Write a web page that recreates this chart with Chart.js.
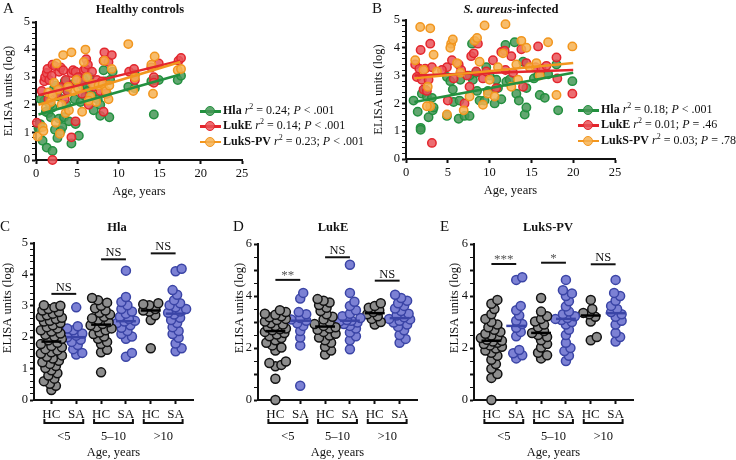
<!DOCTYPE html>
<html>
<head>
<meta charset="utf-8">
<script src="https://cdn.jsdelivr.net/npm/chart.js@4.4.1/dist/chart.umd.min.js"></script>
<style>
  body { margin: 0; background: #fff; }
  #wrap { position: relative; width: 736px; height: 460px; overflow: hidden; background: #fff;
          font-family: 'Liberation Serif', 'DejaVu Serif', serif; color: #111; }
  canvas { position: absolute; }
  .txt { position: absolute; white-space: nowrap; line-height: 16px; }
  .letter { font-size: 15px; }
  .ttl { font-size: 12.5px; font-weight: bold; transform: translateX(-50%); }
  .leg { position: absolute; font-size: 12px; white-space: nowrap; }
  .leg .row { position: absolute; left: 0; height: 14px; width: 170px; }
  .leg .ln { position: absolute; left: 0; top: 6px; width: 21px; height: 2.5px; }
  .leg .dot { position: absolute; left: 5px; top: 2px; width: 8px; height: 8px; border-radius: 50%; border: 1.5px solid; }
  .leg .tx { position: absolute; left: 23px; top: -1px; }
  .leg sup { font-size: 8px; line-height: 0; }
</style>
</head>
<body>
<div id="wrap">
  <canvas id="cA" width="368" height="205" style="left:0;top:0"></canvas>
  <canvas id="cB" width="368" height="205" style="left:368px;top:0"></canvas>
  <canvas id="cC" width="215" height="255" style="left:0;top:205px"></canvas>
  <canvas id="cD" width="245" height="255" style="left:215px;top:205px"></canvas>
  <canvas id="cE" width="306" height="255" style="left:430px;top:205px"></canvas>

  <div class="txt letter" style="left:3px;top:0">A</div>
  <div class="txt ttl" style="left:140px;top:1px">Healthy controls</div>
  <div class="txt letter" style="left:372px;top:0">B</div>
  <div class="txt ttl" style="left:511px;top:1px"><i>S. aureus</i>-infected</div>
  <div class="txt letter" style="left:0;top:218px">C</div>
  <div class="txt ttl" style="left:117px;top:219px">Hla</div>
  <div class="txt letter" style="left:233px;top:218px">D</div>
  <div class="txt ttl" style="left:333px;top:219px">LukE</div>
  <div class="txt letter" style="left:440px;top:218px">E</div>
  <div class="txt ttl" style="left:548px;top:219px">LukS-PV</div>

  <div class="leg" id="legA" style="left:200px;top:104px"></div>
  <div class="leg" id="legB" style="left:578px;top:103px"></div>
</div>

<script>
const FONT = "'Liberation Serif', 'DejaVu Serif', serif";
const INK = '#111';

// --- Panels A/B: [age in years, ELISA units (log)] --- //
const toxins = ['Hla', 'LukE', 'LukS-PV'];

const hcHla = [[0.3,1.15],[0.8,0.7],[1.3,0.45],[2.0,0.33],[0.5,1.3],[1.0,2.15],[0.6,2.2],[1.5,1.7],[1.2,1.75],[1.8,1.55],
  [2.0,1.9],[2.2,2.6],[2.4,2.7],[2.3,1.1],[2.6,0.8],[2.8,1.5],[3.0,1.05],[3.2,1.2],[3.4,1.55],[3.5,2.85],[3.0,2.6],
  [2.7,2.3],[3.8,2.5],[4.0,1.4],[4.3,0.6],[4.8,1.3],[4.7,2.2],[5.2,0.88],[5.4,2.1],[4.9,2.8],[5.0,3.0],[5.6,2.7],
  [6.0,2.3],[6.2,2.7],[6.5,3.0],[6.3,2.5],[6.8,2.35],[7.0,1.8],[7.5,2.2],[7.8,1.6],[7.8,2.0],[8.2,3.25],[8.4,2.85],
  [8.6,2.4],[8.9,1.55],[9.0,2.9],[9.3,3.2],[11.2,2.65],[12.0,2.6],[12.0,3.1],[14.0,2.85],[14.4,2.9],[14.9,2.9],
  [14.3,1.65],[17.2,2.9],[17.6,3.05],[5.8,2.9],[4.5,2.75],[3.7,2.0],[1.7,2.0]];
const hcLukE = [[0.1,1.35],[0.7,2.5],[1.0,2.85],[1.1,3.0],[1.3,3.15],[1.4,3.3],[1.6,2.9],[1.9,3.05],[2.0,3.45],[2.3,3.4],
  [2.5,2.4],[2.8,3.2],[3.0,3.35],[3.3,3.25],[3.5,2.2],[3.8,2.5],[4.0,2.7],[4.3,3.15],[4.5,3.25],[4.8,3.2],[4.8,1.4],
  [4.3,0.82],[2.0,0.0],[5.1,3.0],[5.5,2.85],[5.8,3.25],[6.0,3.3],[6.1,3.65],[6.3,3.45],[6.4,2.0],[6.8,3.2],[7.0,2.65],
  [7.4,2.9],[7.8,2.5],[8.0,2.85],[8.2,3.6],[8.3,3.9],[8.2,1.75],[8.5,2.4],[8.8,3.55],[9.2,3.8],[11.3,3.2],[11.9,3.3],
  [12.0,2.9],[14.0,3.35],[14.3,3.0],[14.3,2.8],[14.9,3.5],[17.3,3.6],[17.6,3.7],[2.9,2.65],[1.5,2.2],[3.6,2.9],[5.6,2.4]];
const hcLukSPV = [[0.2,0.85],[0.8,1.2],[0.9,1.05],[1.5,2.45],[1.8,2.1],[2.2,2.8],[2.5,3.5],[2.7,2.55],[2.9,0.95],[3.1,2.0],
  [3.3,3.8],[3.6,1.7],[4.0,1.8],[4.3,3.9],[4.6,2.5],[4.9,2.9],[5.1,2.6],[5.6,1.75],[5.8,3.55],[6.0,4.0],[6.2,3.0],
  [6.6,2.3],[6.9,2.75],[7.3,2.1],[7.6,2.7],[8.1,2.75],[8.3,3.6],[8.5,2.5],[8.8,2.2],[8.9,2.7],[9.2,3.3],[11.2,4.2],
  [11.8,2.5],[12.0,3.0],[14.0,3.45],[14.2,2.4],[14.4,3.75],[17.2,3.25],[17.6,3.3],[2.0,2.35],[3.9,2.65],[6.4,2.15],
  [1.2,1.9],[2.4,1.35]];

const saHla = [[0.9,2.1],[1.4,1.7],[1.75,1.12],[1.75,1.05],[1.9,2.35],[2.3,2.5],[2.5,2.25],[2.7,1.5],[3.1,2.2],[3.2,1.75],
  [3.3,1.85],[4.9,1.55],[4.9,2.95],[5.3,2.8],[5.6,2.5],[5.7,2.05],[6.3,1.45],[6.4,2.1],[6.5,2.85],[7.0,1.55],[7.6,1.55],
  [7.9,4.15],[8.0,2.85],[8.5,2.45],[8.8,2.1],[9.4,2.1],[9.6,3.3],[9.8,2.45],[10.6,2.0],[10.8,2.85],[11.0,2.55],
  [11.4,2.15],[12.0,2.78],[11.9,4.1],[13.0,4.2],[13.2,2.35],[13.5,2.1],[14.0,3.5],[14.2,1.6],[14.4,1.85],[14.4,2.55],
  [15.3,2.9],[15.8,3.0],[16.0,2.3],[16.6,2.2],[17.0,3.05],[18.0,3.4],[18.2,1.75],[19.9,2.8],[7.6,3.0],[8.4,3.1],
  [10.0,3.0],[12.4,2.85]];
const saLukE = [[1.1,3.4],[1.3,2.95],[1.6,3.25],[1.75,3.92],[1.9,2.85],[2.1,2.5],[2.3,3.25],[2.7,2.85],[2.9,4.15],[3.1,3.3],
  [3.1,0.58],[2.5,2.45],[4.9,3.3],[5.0,2.1],[5.5,3.55],[6.3,3.4],[6.6,3.2],[7.0,2.0],[7.6,2.6],[7.8,3.7],[8.1,3.8],
  [8.4,3.15],[8.6,4.15],[9.2,2.9],[9.6,3.15],[10.4,3.55],[10.8,2.55],[11.4,3.85],[11.8,3.9],[11.9,3.2],[12.6,3.7],
  [12.8,3.1],[13.8,3.95],[14.0,2.6],[14.4,3.45],[15.5,3.3],[15.8,4.05],[16.2,3.25],[16.8,3.35],[18.0,3.65],[18.1,2.9],
  [19.9,2.35],[4.3,3.2],[5.7,2.9],[7.3,3.0]];
const saLukSPV = [[1.1,3.55],[1.7,4.75],[2.1,3.2],[2.6,2.6],[2.9,4.7],[3.3,3.75],[2.9,1.9],[2.5,1.9],[4.9,1.6],[5.4,4.15],
  [5.6,4.3],[5.3,4.0],[6.1,3.45],[6.9,1.75],[7.6,2.25],[8.2,4.25],[8.5,4.35],[8.8,3.5],[9.2,1.95],[9.4,4.8],[9.8,2.35],
  [10.6,2.25],[11.0,3.3],[11.9,4.85],[11.6,3.8],[12.6,2.6],[13.2,3.4],[13.8,4.25],[14.4,4.0],[14.8,3.3],[15.6,3.45],
  [17.0,4.2],[18.0,2.3],[19.9,4.05],[10.0,2.85],[13.4,2.85],[16.0,3.0],[6.5,3.1],[3.7,3.15]];

// regression lines, endpoints
const hcFits = [[[0.3,1.65],[17.5,3.1]], [[0.3,2.35],[17.5,3.6]], [[0.3,2.0],[17.5,3.55]]];
const saFits = [[[1.0,2.05],[20.0,3.1]], [[1.0,3.0],[20.0,3.2]], [[1.0,2.9],[20.0,3.45]]];
const hcR2 = ['0.24', '0.14', '0.23'];
const hcP = ['<', '.001', '<', '.001', '<', '.001'];
const saR2 = ['0.18', '0.01', '0.03'];
const saP = ['<', '.001', '=', '.46', '=', '.78'];

// --- Panels C-E: ELISA units (log) by age group, HC / SA --- //
const groupLabels = ['<5', '5\u201310', '>10'];
const pairLabels = ['HC', 'SA'];

const hlaHcU5 = [0.32,0.45,0.52,0.6,0.68,0.78,0.85,0.95,1.02,1.08,1.15,1.2,1.25,1.32,1.38,1.42,1.48,1.52,1.58,1.62,1.68,
  1.72,1.78,1.82,1.9,1.95,2.02,2.08,2.12,2.18,2.22,2.28,2.32,2.38,2.45,2.5,2.52,2.58,2.62,2.65,2.7,2.75,2.8,2.85,2.9,2.95,3.0,3.02];
const hlaSaU5 = [1.45,1.5,1.62,1.75,1.85,1.92,2.0,2.05,2.12,2.22,2.28,2.35,2.95];
const hlaHc5to10 = [0.88,1.52,1.6,1.78,1.85,1.95,2.02,2.1,2.15,2.22,2.28,2.32,2.38,2.42,2.48,2.55,2.6,2.65,2.72,2.78,2.85,2.92,3.0,3.1,3.18,3.25];
const hlaSa5to10 = [1.38,1.5,1.95,2.02,2.1,2.2,2.3,2.38,2.45,2.5,2.52,2.58,2.65,2.75,2.82,2.9,3.02,3.12,3.28,4.12];
const hlaHcO10 = [1.65,2.55,2.7,2.82,2.85,2.9,3.02,3.05,3.08];
const hlaSaO10 = [1.55,1.65,1.8,1.98,2.1,2.2,2.32,2.45,2.55,2.62,2.72,2.78,2.82,2.9,2.95,3.02,3.08,3.18,3.35,3.5,4.1,4.18];
const hlaSig = [['NS', 3.38], ['NS', 4.48], ['NS', 4.67]];

const lukeHcU5 = [0,0.82,1.3,1.35,1.42,1.48,1.9,2.02,2.1,2.2,2.3,2.38,2.45,2.52,2.58,2.62,2.68,2.72,2.75,2.8,2.85,2.9,2.95,
  3.02,3.08,3.12,3.18,3.22,3.28,3.32,3.38,3.45];
const lukeSaU5 = [0.55,2.1,2.4,2.65,2.85,2.95,3.05,3.1,3.15,3.3,3.38,3.9,4.12];
const lukeHc5to10 = [1.75,1.9,2.05,2.2,2.3,2.4,2.48,2.55,2.62,2.7,2.75,2.8,2.85,2.92,3.0,3.1,3.2,3.3,3.42,3.55,3.65,3.75,3.82,3.88];
const lukeSa5to10 = [1.95,2.3,2.45,2.6,2.75,2.85,2.92,2.98,3.02,3.05,3.08,3.15,3.22,3.32,3.45,3.62,3.78,4.12,5.2];
const lukeHcO10 = [2.9,3.0,3.12,3.22,3.3,3.38,3.45,3.55,3.62,3.72];
const lukeSaO10 = [2.2,2.35,2.5,2.68,2.82,2.9,2.98,3.05,3.1,3.12,3.18,3.25,3.32,3.42,3.52,3.62,3.72,3.82,3.92,4.05];
const lukeSig = [['**', 4.62], ['NS', 5.49], ['NS', 4.59]];

const lukspvHcU5 = [0,0.85,1.0,1.2,1.38,1.55,1.7,1.82,1.9,1.98,2.05,2.1,2.15,2.2,2.25,2.28,2.32,2.38,2.42,2.48,2.55,2.62,
  2.7,2.8,2.9,3.0,3.12,3.3,3.5,3.7,3.85];
const lukspvSaU5 = [1.6,1.72,1.8,1.92,2.45,2.62,2.78,2.92,3.05,3.25,3.45,3.62,4.62,4.72];
const lukspvHc5to10 = [1.6,1.72,1.82,2.02,2.15,2.3,2.42,2.5,2.58,2.65,2.8,2.9,3.02,3.12,3.22,3.4,3.92];
const lukspvSa5to10 = [1.5,1.7,1.88,2.0,2.2,2.5,2.7,2.9,3.0,3.08,3.12,3.15,3.22,3.3,3.4,3.6,3.8,4.0,4.1,4.22,4.62];
const lukspvHcO10 = [2.3,2.42,3.02,3.2,3.3,3.35,3.5,3.85];
const lukspvSaO10 = [2.25,2.42,2.58,2.9,3.05,3.2,3.3,3.38,3.5,3.62,3.82,4.0,4.12,4.62];
const lukspvSig = [['***', 5.23], ['*', 5.28], ['NS', 5.22]];

// --- Styles --- //
const seriesColors = [
  { edge: '#23903f', fill: 'rgba(72,152,88,0.85)' },
  { edge: '#e3262d', fill: 'rgba(233,84,88,0.85)' },
  { edge: '#f2961e', fill: 'rgba(246,178,82,0.85)' }
];
const HC_FILL = '#8d8d8d', HC_EDGE = '#111';
const SA_FILL = '#7c81d4', SA_EDGE = '#3a44a6';
const X_PX = 24.84; // px per category step in the dot plots

const isInt = v => Math.abs(v - Math.round(v)) < 1e-6;
const tickFont = { family: FONT, size: 12.5 };
const axisBorder = { color: INK, width: 2 };
const axisGrid = {
  drawOnChartArea: false, drawTicks: true, tickLength: 4, tickColor: INK,
  tickWidth: (c) => (c.tick && isInt(c.tick.value) ? 2 : 1)
};

// --- Legends (HTML so the rich text keeps its bold/italic parts) --- //
function buildLegend(el, r2, p) {
  el.innerHTML = toxins.map((name, i) => {
    const c = seriesColors[i];
    return `<div class="row" style="top:${i * 15.3}px">` +
      `<i class="ln" style="background:${c.edge}"></i>` +
      `<i class="dot" style="border-color:${c.edge};background:${c.fill}"></i>` +
      `<span class="tx"><b>${name}</b> <i>r</i><sup>2</sup> = ${r2[i]}; <i>P</i> ${p[2 * i]} ${p[2 * i + 1]}</span></div>`;
  }).join('');
}
buildLegend(document.getElementById('legA'), hcR2, hcP);
buildLegend(document.getElementById('legB'), saR2, saP);

// --- Scatter panels --- //
function scatterSets(seriesList, fits) {
  const sets = [];
  seriesList.forEach((pts, i) => {
    const c = seriesColors[i];
    sets.push({
      data: pts.map(([x, y]) => ({ x, y })),
      backgroundColor: c.fill, borderColor: c.edge, borderWidth: 1.5,
      pointRadius: 4.2, clip: false, order: 10 - i
    });
    sets.push({
      data: fits[i].map(([x, y]) => ({ x, y })),
      showLine: true, borderColor: c.edge, borderWidth: 2.5,
      pointRadius: 0, clip: false, order: 3 - i
    });
  });
  return sets;
}

function makeScatter(id, sets, pad) {
  new Chart(document.getElementById(id), {
    type: 'scatter',
    data: { datasets: sets },
    options: {
      responsive: false, animation: false,
      layout: { padding: pad },
      plugins: { legend: { display: false }, tooltip: { enabled: false } },
      scales: {
        x: {
          min: 0, max: 25,
          ticks: { stepSize: 5, color: INK, font: tickFont, padding: 2 },
          grid: axisGrid, border: axisBorder,
          title: { display: true, text: 'Age, years', color: INK, font: tickFont, padding: { top: 0, bottom: 1 } },
          afterFit: (s) => { s.height = 40; }
        },
        y: {
          min: 0, max: 5,
          ticks: { stepSize: 0.2, autoSkip: false, color: INK, font: tickFont, padding: 2,
                   callback: (v) => (isInt(v) ? Math.round(v) : '') },
          grid: axisGrid, border: axisBorder,
          title: { display: true, text: 'ELISA units (log)', color: INK, font: tickFont, padding: { top: 1, bottom: 0 } },
          afterFit: (s) => { s.width = 36; }
        }
      }
    }
  });
}

makeScatter('cA', scatterSets([hcHla, hcLukE, hcLukSPV], hcFits), { left: 0, top: 22, right: 126, bottom: 5 });
makeScatter('cB', scatterSets([saHla, saLukE, saLukSPV], saFits), { left: 2, top: 20, right: 121, bottom: 6 });

// --- Dot plots --- //
// simple deterministic swarm: place each point at the nearest free horizontal offset (px)
function swarm(vals, pxY) {
  const placed = [];
  const offs = [];
  const cands = [0];
  for (let k = 1.5; k <= 10.5; k += 1.5) cands.push(k, -k);
  const idx = vals.map((v, i) => i).sort((a, b) => vals[a] - vals[b]);
  idx.forEach((i) => {
    const y = vals[i] * pxY;
    let best = 0, bestD = -1;
    for (const c of cands) {
      let dmin = Infinity;
      placed.forEach((p) => { dmin = Math.min(dmin, Math.hypot(p[0] - c, p[1] - y)); });
      if (dmin >= 6) { best = c; break; }
      if (dmin > bestD) { bestD = dmin; best = c; }
    }
    placed.push([best, y]);
    offs[i] = best;
  });
  return offs;
}

function median(vals) {
  const s = [...vals].sort((a, b) => a - b);
  const m = Math.floor(s.length / 2);
  return s.length % 2 ? s[m] : (s[m - 1] + s[m]) / 2;
}

function dotSets(groups, pxY) {
  const sets = [];
  groups.forEach((vals, g) => {
    const sa = g % 2 === 1;
    const offs = swarm(vals, pxY);
    sets.push({
      data: vals.map((v, i) => ({ x: g + offs[i] / X_PX, y: v })),
      backgroundColor: sa ? SA_FILL : HC_FILL, borderColor: sa ? SA_EDGE : HC_EDGE,
      borderWidth: 1.5, pointRadius: 4.5, clip: false, order: 5
    });
    const m = median(vals);
    sets.push({
      data: [{ x: g - 0.4, y: m }, { x: g + 0.4, y: m }],
      showLine: true, borderColor: sa ? SA_EDGE : '#000', borderWidth: 2.5,
      pointRadius: 0, clip: false, order: 1
    });
  });
  return sets;
}

// significance bars, age brackets, y title
const groupDecor = {
  id: 'groupDecor',
  afterDraw(chart, args, opts) {
    const { ctx, scales: { x, y } } = chart;
    ctx.save();
    ctx.strokeStyle = INK;
    ctx.lineWidth = 2;
    ctx.textAlign = 'center';
    groupLabels.forEach((lab, g) => {
      const xa = x.getPixelForValue(2 * g), xb = x.getPixelForValue(2 * g + 1);
      // bracket under HC/SA
      const yb = y.bottom + 23;
      ctx.beginPath();
      ctx.moveTo(xa - 7, yb - 4); ctx.lineTo(xa - 7, yb); ctx.lineTo(xb + 7, yb); ctx.lineTo(xb + 7, yb - 4);
      ctx.stroke();
      ctx.fillStyle = INK;
      ctx.font = `12.5px ${FONT}`;
      ctx.textBaseline = 'middle';
      ctx.fillText(lab, (xa + xb) / 2, yb + 14);
      // significance bar
      const [txt, v] = opts.sig[g];
      const ys = y.getPixelForValue(v);
      ctx.beginPath(); ctx.moveTo(xa, ys); ctx.lineTo(xb, ys); ctx.stroke();
      ctx.textBaseline = 'alphabetic';
      ctx.fillStyle = txt.startsWith('*') ? '#555' : INK;
      ctx.font = `${txt.startsWith('*') ? 13 : 12.5}px ${FONT}`;
      ctx.fillText(txt, (xa + xb) / 2, ys - (txt.startsWith('*') ? 1 : 3));
    });
    ctx.translate(opts.titleX, opts.titleY);
    ctx.rotate(-Math.PI / 2);
    ctx.fillStyle = INK;
    ctx.font = `12.5px ${FONT}`;
    ctx.textBaseline = 'middle';
    ctx.fillText('ELISA units (log)', 0, 0);
    ctx.restore();
  }
};

function makeDots(id, groups, yMax, yStep, labelEvery, sig, pad, yWidth, titleX) {
  const pxY = 156 / yMax;
  new Chart(document.getElementById(id), {
    type: 'scatter',
    data: { datasets: dotSets(groups, pxY) },
    plugins: [groupDecor],
    options: {
      responsive: false, animation: false,
      layout: { padding: pad },
      plugins: {
        legend: { display: false }, tooltip: { enabled: false },
        groupDecor: { sig, titleX, titleY: 103 }
      },
      scales: {
        x: {
          min: -0.7, max: 5.7,
          afterBuildTicks: (s) => { s.ticks = [0, 1, 2, 3, 4, 5].map((value) => ({ value })); },
          ticks: { color: INK, font: { family: FONT, size: 13 }, padding: 3,
                   callback: (v) => pairLabels[Math.round(v) % 2] },
          grid: { drawOnChartArea: false, drawTicks: true, tickLength: 4, tickColor: INK, tickWidth: 2 },
          border: axisBorder,
          title: { display: true, text: 'Age, years', color: INK, font: tickFont, padding: { top: 0, bottom: 0 } },
          afterFit: (s) => { s.height = 60; }
        },
        y: {
          min: 0, max: yMax,
          ticks: { stepSize: yStep, autoSkip: false, color: INK, font: tickFont, padding: 2,
                   callback: (v) => (isInt(v) && Math.round(v) % labelEvery === 0 ? Math.round(v) : '') },
          grid: axisGrid, border: axisBorder,
          afterFit: (s) => { s.width = yWidth; }
        }
      }
    }
  });
}

makeDots('cC', [hlaHcU5, hlaSaU5, hlaHc5to10, hlaSa5to10, hlaHcO10, hlaSaO10],
  5, 0.2, 1, hlaSig, { left: 0, top: 38, right: 22, bottom: 0 }, 34, 8);
makeDots('cD', [lukeHcU5, lukeSaU5, lukeHc5to10, lukeSa5to10, lukeHcO10, lukeSaO10],
  6, 0.5, 2, lukeSig, { left: 17, top: 39, right: 43, bottom: 0 }, 26, 25);
makeDots('cE', [lukspvHcU5, lukspvSaU5, lukspvHc5to10, lukspvSa5to10, lukspvHcO10, lukspvSaO10],
  6, 0.5, 2, lukspvSig, { left: 17, top: 39, right: 103, bottom: 0 }, 27, 25);
</script>
</body>
</html>
